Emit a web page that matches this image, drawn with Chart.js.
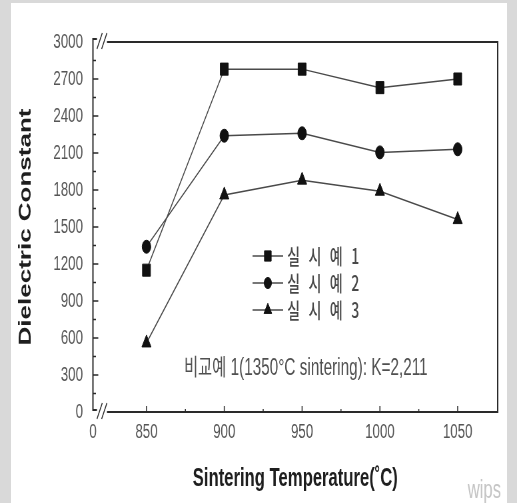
<!DOCTYPE html>
<html>
<head>
<meta charset="utf-8">
<script src="https://cdn.jsdelivr.net/npm/chart.js@4.4.1/dist/chart.umd.min.js"></script>
<style>
  html, body { margin: 0; padding: 0; width: 517px; height: 503px; overflow: hidden; background: #d9d9d9; }
  #panel { position: absolute; left: 11px; top: 3px; width: 496px; height: 500px; background: #ffffff; }
  /* the chart is laid out on a wider canvas and compressed horizontally */
  #c { position: absolute; left: 0; top: 0; transform: scaleX(0.66624); transform-origin: 0 0; }
</style>
</head>
<body>
<div id="panel"></div>
<canvas id="c" width="776" height="503"></canvas>
<script>
// ---- data ----
const temperatures = [850, 900, 950, 1000, 1050];
const example1 = [1150, 2780, 2780, 2630, 2700];
const example2 = [1340, 2240, 2260, 2105, 2130];
const example3 = [560, 1760, 1880, 1790, 1560];
const seriesNames = ['실 시 예 1', '실 시 예 2', '실 시 예 3'];

// ---- axis ticks ----
const xMajorTicks = [850, 900, 950, 1000, 1050];
const xMinorTicks = [875, 925, 975, 1025];
const xBreakLabel = '0';
const yMajorTicks = [0, 300, 600, 900, 1200, 1500, 1800, 2100, 2400, 2700, 3000];
const yMinorTicks = [150, 450, 750, 1050, 1350, 1650, 1950, 2250, 2550, 2850];

const comparisonNote = '비교예 1(1350°C sintering): K=2,211';
const xTitle = 'Sintering Temperature(˚C)';
const yTitle = 'Dielectric Constant';

// ---- styling ----
const X_MIN = 815.6, X_MAX = 1075.7;
const FONT = "'Liberation Sans', Arial, sans-serif";
const KFONT = "'Liberation Sans', 'Noto Sans CJK KR', sans-serif";
const markerStyles = ['rect', 'circle', 'triangle'];
const markerRadius = [8.5, 6.5, 8];
const LINE_COLOR = '#4a4a4a';
const MARK_COLOR = '#111111';

const seriesValues = [example1, example2, example3];
const datasets = seriesValues.map((vals, i) => ({
  label: seriesNames[i],
  data: temperatures.map((t, j) => ({ x: t, y: vals[j] })),
  borderColor: LINE_COLOR,
  borderWidth: 1.5,
  pointStyle: markerStyles[i],
  pointRadius: markerRadius[i],
  pointHoverRadius: markerRadius[i],
  pointBackgroundColor: MARK_COLOR,
  pointBorderColor: MARK_COLOR,
  pointBorderWidth: 1,
  tension: 0,
  fill: false
}));

function drawMarker(ctx, style, r, x, y) {
  ctx.beginPath();
  if (style === 'rect') {
    const s = r * Math.SQRT1_2;
    ctx.rect(x - s, y - s, 2 * s, 2 * s);
  } else if (style === 'circle') {
    ctx.arc(x, y, r, 0, Math.PI * 2);
  } else {
    let a = 0;
    ctx.moveTo(x + Math.sin(a) * r, y - Math.cos(a) * r);
    a += 2 * Math.PI / 3;
    ctx.lineTo(x + Math.sin(a) * r, y - Math.cos(a) * r);
    a += 2 * Math.PI / 3;
    ctx.lineTo(x + Math.sin(a) * r, y - Math.cos(a) * r);
    ctx.closePath();
  }
  ctx.fill();
  ctx.stroke();
}

// frame with axis breaks and inward tick marks
const frameAndTicks = {
  id: 'frameAndTicks',
  afterDatasetsDraw(chart) {
    const { ctx, chartArea: a, scales: { x, y } } = chart;
    ctx.save();
    ctx.strokeStyle = '#2a2a2a';
    ctx.lineWidth = 2;
    ctx.beginPath();
    // left axis with small hooks at both ends
    ctx.moveTo(a.left + 6, a.top - 3);
    ctx.lineTo(a.left, a.top - 3);
    ctx.lineTo(a.left, a.bottom - 2);
    ctx.lineTo(a.left + 6, a.bottom - 2);
    // top and bottom lines resume after the break
    ctx.moveTo(a.left + 21, a.top);
    ctx.lineTo(a.right, a.top);
    ctx.lineTo(a.right, a.bottom);
    ctx.lineTo(a.left + 21, a.bottom);
    ctx.stroke();

    // break marks
    ctx.lineWidth = 1.5;
    ctx.beginPath();
    [a.top - 1, a.bottom - 1].forEach(cy => {
      for (let k = 0; k < 2; k++) {
        const bx = a.left + 6 + k * 7;
        ctx.moveTo(bx, cy + 8);
        ctx.lineTo(bx + 8, cy - 8);
      }
    });
    ctx.stroke();

    // tick marks
    ctx.lineWidth = 1.5;
    ctx.beginPath();
    yMajorTicks.forEach(v => {
      const py = y.getPixelForValue(v);
      if (v > 0 && v < 3000) { ctx.moveTo(a.left, py); ctx.lineTo(a.left + 8, py); }
    });
    yMinorTicks.forEach(v => {
      const py = y.getPixelForValue(v);
      ctx.moveTo(a.left, py); ctx.lineTo(a.left + 4.5, py);
    });
    xMajorTicks.forEach(v => {
      const px = x.getPixelForValue(v);
      ctx.moveTo(px, a.bottom); ctx.lineTo(px, a.bottom - 6);
    });
    xMinorTicks.forEach(v => {
      const px = x.getPixelForValue(v);
      ctx.moveTo(px, a.bottom); ctx.lineTo(px, a.bottom - 3);
    });
    ctx.stroke();
    ctx.restore();
  }
};

// legend inside the plot plus the comparison note and watermark
const legendAndNotes = {
  id: 'legendAndNotes',
  afterDraw(chart) {
    const { ctx } = chart;
    ctx.save();
    const lx0 = 379, lx1 = 425, ty0 = 256, gap = 27;
    chart.data.datasets.forEach((ds, i) => {
      const cy = ty0 + i * gap;
      ctx.strokeStyle = LINE_COLOR;
      ctx.lineWidth = 1.5;
      ctx.beginPath();
      ctx.moveTo(lx0, cy); ctx.lineTo(lx1, cy);
      ctx.stroke();
      ctx.fillStyle = MARK_COLOR;
      ctx.strokeStyle = MARK_COLOR;
      ctx.lineWidth = 1;
      drawMarker(ctx, ds.pointStyle, ds.pointRadius * 0.85, (lx0 + lx1) / 2, cy);
      ctx.fillStyle = '#484848';
      ctx.font = "500 21px 'Noto Sans CJK KR', sans-serif";
      ctx.textBaseline = 'middle';
      ctx.textAlign = 'left';
      ctx.letterSpacing = '4px';
      ctx.fillText(ds.label, 431, cy);
      ctx.letterSpacing = '0px';
    });

    ctx.fillStyle = '#505050';
    ctx.font = '23px ' + KFONT;
    ctx.textAlign = 'center';
    ctx.textBaseline = 'middle';
    ctx.fillText(comparisonNote, 459, 369);

    ctx.fillStyle = '#c4c4c4';
    ctx.font = '25px ' + FONT;
    ctx.fillText('wips', 727, 491);
    ctx.restore();
  }
};

new Chart(document.getElementById('c'), {
  type: 'line',
  data: { datasets },
  options: {
    responsive: false,
    devicePixelRatio: 1,
    animation: false,
    events: [],
    layout: { padding: { top: 42, right: 29, left: 0, bottom: 0 } },
    plugins: { legend: { display: false }, tooltip: { enabled: false } },
    scales: {
      x: {
        type: 'linear',
        min: X_MIN,
        max: X_MAX,
        afterBuildTicks: s => { s.ticks = [X_MIN, ...xMajorTicks].map(v => ({ value: v })); },
        afterFit: s => { s.height = 91; },
        grid: { display: false, drawTicks: false },
        border: { display: false },
        ticks: {
          autoSkip: false, maxRotation: 0, padding: 8, color: '#555',
          font: { size: 20, family: FONT },
          callback: v => (v === X_MIN ? xBreakLabel : String(v))
        },
        title: {
          display: true, text: xTitle, color: '#1e1e1e',
          font: { size: 25, weight: 'bold', family: FONT },
          padding: { top: 0, bottom: 9 }
        }
      },
      y: {
        min: 0,
        max: 3000,
        afterBuildTicks: s => { s.ticks = yMajorTicks.map(v => ({ value: v })); },
        afterFit: s => { s.width = 139.5; },
        grid: { display: false, drawTicks: false },
        border: { display: false },
        ticks: {
          padding: 15, color: '#555', font: { size: 20, family: FONT },
          callback: v => String(v)
        },
        title: {
          display: true, text: yTitle, color: '#1e1e1e',
          font: { size: 26, weight: 'bold', family: FONT },
          padding: { top: 23, bottom: 0 }
        }
      }
    }
  },
  plugins: [frameAndTicks, legendAndNotes]
});
</script>
</body>
</html>
